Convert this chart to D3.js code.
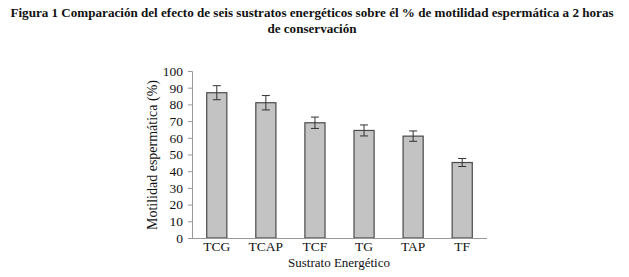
<!DOCTYPE html>
<html lang="es">
<head>
<meta charset="UTF-8">
<script src="https://d3js.org/d3.v7.min.js"></script>
<style>
  body { margin: 0; background: #fff; }
  svg text { font-family: "Liberation Serif", "Times New Roman", serif; fill: #111; }
</style>
</head>
<body>
<div id="chart"></div>
<script>
// datos
const sustratos = ["TCG", "TCAP", "TCF", "TG", "TAP", "TF"];
const motilidad = [87, 81, 69, 64.4, 61, 45.2];
const errores = [4.2, 4.3, 3.4, 3.3, 3.1, 2.4];
const yTicks = [0, 10, 20, 30, 40, 50, 60, 70, 80, 90, 100];

const W = 629, H = 277;
const svg = d3.select("#chart").append("svg")
  .attr("width", W).attr("height", H);

// título
svg.append("text")
  .attr("x", 312).attr("y", 17)
  .attr("text-anchor", "middle")
  .style("font-weight", "bold").style("font-size", "13.1px")
  .text("Figura 1 Comparación del efecto de seis sustratos energéticos sobre él % de motilidad espermática a 2 horas");
svg.append("text")
  .attr("x", 312).attr("y", 33)
  .attr("text-anchor", "middle")
  .style("font-weight", "bold").style("font-size", "13.1px")
  .text("de conservación");

const x = d3.scaleBand().domain(sustratos).range([192, 487]).paddingInner(0.59).paddingOuter(0.3);
const y = d3.scaleLinear().domain([0, 100]).range([238, 71]);

// eje y
const yAxis = svg.append("g")
  .attr("transform", "translate(192,0)")
  .call(d3.axisLeft(y).tickValues(yTicks).tickSize(4).tickPadding(5));
yAxis.select(".domain").attr("stroke", "#999");
yAxis.selectAll(".tick line").attr("stroke", "#999");
yAxis.selectAll("text").style("font-size", "13.5px").style("font-family", "Liberation Serif");

// barras
svg.selectAll("rect.bar")
  .data(sustratos)
  .enter().append("rect")
  .attr("class", "bar")
  .attr("x", d => x(d))
  .attr("width", x.bandwidth())
  .attr("y", (d, i) => y(motilidad[i]))
  .attr("height", (d, i) => y(0) - y(motilidad[i]))
  .attr("fill", "#c3c3c3")
  .attr("stroke", "#4a4a4a")
  .attr("stroke-width", 1.2);

// barras de error
const eb = svg.selectAll("g.err")
  .data(sustratos)
  .enter().append("g")
  .attr("class", "err")
  .attr("stroke", "#333").attr("stroke-width", 1);
eb.append("line")
  .attr("x1", d => x(d) + x.bandwidth() / 2).attr("x2", d => x(d) + x.bandwidth() / 2)
  .attr("y1", (d, i) => y(motilidad[i] + errores[i]))
  .attr("y2", (d, i) => y(motilidad[i] - errores[i]));
eb.append("line")
  .attr("x1", d => x(d) + x.bandwidth() / 2 - 4).attr("x2", d => x(d) + x.bandwidth() / 2 + 4)
  .attr("y1", (d, i) => y(motilidad[i] + errores[i]))
  .attr("y2", (d, i) => y(motilidad[i] + errores[i]));
eb.append("line")
  .attr("x1", d => x(d) + x.bandwidth() / 2 - 4).attr("x2", d => x(d) + x.bandwidth() / 2 + 4)
  .attr("y1", (d, i) => y(motilidad[i] - errores[i]))
  .attr("y2", (d, i) => y(motilidad[i] - errores[i]));

// eje x
const xAxis = svg.append("g")
  .attr("transform", "translate(0,238)")
  .call(d3.axisBottom(x).tickSize(0).tickPadding(3));
xAxis.select(".domain").attr("stroke", "#999").attr("d", "M188,0.5H487");
xAxis.selectAll("text").style("font-size", "13.5px").style("font-family", "Liberation Serif");

// títulos de ejes
svg.append("text")
  .attr("x", 339).attr("y", 267)
  .attr("text-anchor", "middle")
  .style("font-size", "13px")
  .text("Sustrato Energético");
svg.append("text")
  .attr("transform", "translate(157,155) rotate(-90)")
  .attr("text-anchor", "middle")
  .style("font-size", "14px")
  .text("Motilidad espermática (%)");
</script>
</body>
</html>
